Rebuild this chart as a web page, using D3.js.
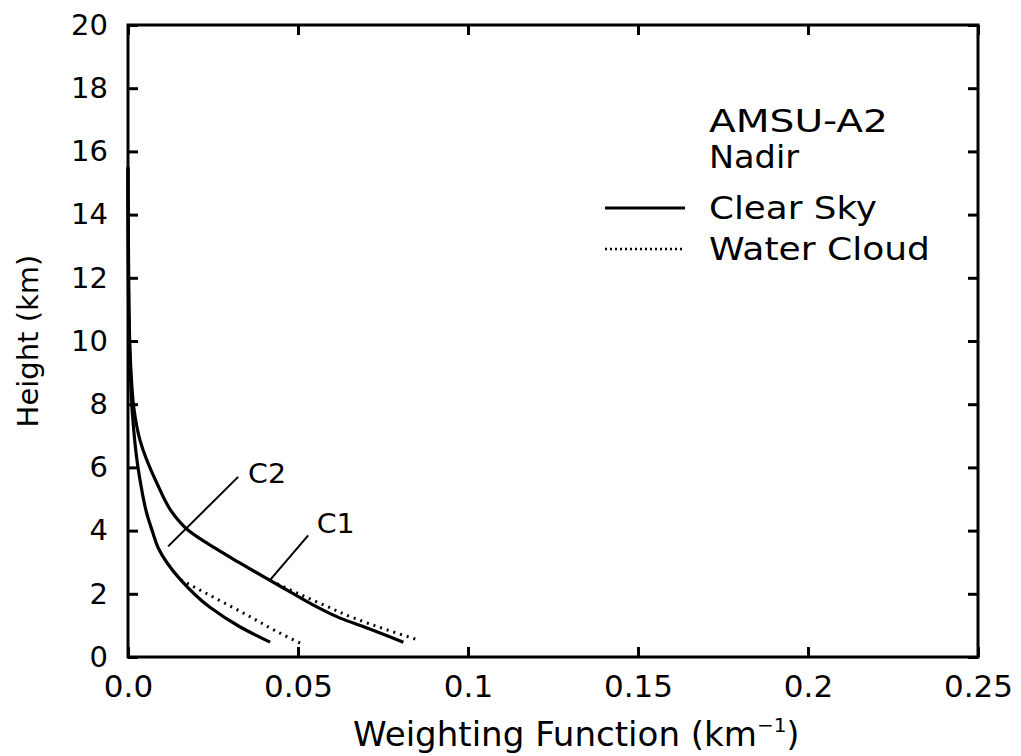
<!DOCTYPE html>
<html><head><meta charset="utf-8">
<script src="https://cdn.jsdelivr.net/npm/d3@7"></script>
<style>body{margin:0;background:#fff;} text{font-family:"DejaVu Sans",sans-serif;fill:#000;}</style>
</head><body><svg id="c" width="1021" height="756"></svg>
<script>
const xTicks = [0, 0.05, 0.1, 0.15, 0.2, 0.25];
const xTickLabels = ["0.0", "0.05", "0.1", "0.15", "0.2", "0.25"];
const yTicks = [0, 2, 4, 6, 8, 10, 12, 14, 16, 18, 20];

// C1 clear sky: height (km) and weighting (km^-1)
const c1ClearH = [0.47, 0.92, 1.23, 1.65, 2.06, 2.44, 3.0, 3.45, 4.0, 4.5, 5.5, 6.87, 7.9, 9.0, 10.0, 12.0, 15.5];
const c1ClearW = [0.081, 0.0703, 0.0624, 0.0544, 0.0477, 0.0415, 0.0325, 0.0255, 0.0178, 0.0135, 0.0085, 0.0035, 0.0017, 0.0009, 0.0005, 0.0002, 0.0];
const c1CloudH = [0.57, 0.92, 1.23, 1.65, 2.06, 2.44];
const c1CloudW = [0.0845, 0.0745, 0.0665, 0.0575, 0.049, 0.0415];
// C2
const c2ClearH = [0.47, 0.95, 1.58, 2.44, 3.45, 4.0, 4.55, 5.5, 6.1, 7.7, 9.0, 10.0, 12.0, 15.5];
const c2ClearW = [0.0418, 0.033, 0.024, 0.0155, 0.0089, 0.0071, 0.0055, 0.0037, 0.0028, 0.0013, 0.0007, 0.0004, 0.0001, 0.0];
const c2CloudH = [0.44, 0.85, 1.27, 1.9, 2.44];
const c2CloudW = [0.0506, 0.043, 0.036, 0.025, 0.0155];

const svg = d3.select("#c");
const L = 128, R = 978, T = 25, B = 657;
const x = d3.scaleLinear().domain([0, 0.25]).range([L, R]);
const y = d3.scaleLinear().domain([0, 20]).range([B, T]);
const FS = 29;

// axes with inward ticks
const gx = svg.append("g").attr("transform", `translate(0,${B})`)
  .call(d3.axisBottom(x).tickValues(xTicks).tickSize(-10).tickFormat((d,i)=>xTickLabels[i]).tickPadding(18));
const gxt = svg.append("g").attr("transform", `translate(0,${T})`)
  .call(d3.axisTop(x).tickValues(xTicks).tickSize(-10).tickFormat(""));
const gy = svg.append("g").attr("transform", `translate(${L},0)`)
  .call(d3.axisLeft(y).tickValues(yTicks).tickSize(-10).tickFormat(d3.format("d")).tickPadding(20));
const gyr = svg.append("g").attr("transform", `translate(${R},0)`)
  .call(d3.axisRight(y).tickValues(yTicks).tickSize(-10).tickFormat(""));
[gx,gxt,gy,gyr].forEach(g=>{
  g.selectAll(".domain").remove();
  g.selectAll(".tick line").attr("stroke","#000").attr("stroke-width",3);
  g.selectAll("text").style("font-size",FS+"px").style("font-family","DejaVu Sans");
});
gx.selectAll("text").style("font-size","31px").attr("dy","0.71em");
svg.append("rect").attr("x",L).attr("y",T).attr("width",R-L).attr("height",B-T)
  .attr("fill","none").attr("stroke","#000").attr("stroke-width",3);

const line = d3.line().x(d=>x(d[1])).y(d=>y(d[0])).curve(d3.curveMonotoneY);
function series(H,W){ return H.map((h,i)=>[h,W[i]]).sort((a,b)=>a[0]-b[0]); }
const solid = [series(c1ClearH,c1ClearW), series(c2ClearH,c2ClearW)];
const dotted = [series(c1CloudH,c1CloudW), series(c2CloudH,c2CloudW)];
solid.forEach(s=>svg.append("path").attr("d",line(s)).attr("fill","none").attr("stroke","#000").attr("stroke-width",3.2));
dotted.forEach(s=>svg.append("path").attr("d",line(s)).attr("fill","none").attr("stroke","#000").attr("stroke-width",3).attr("stroke-dasharray","2,5"));

// annotations (in data coords)
const ann = [
  {name:"C2", from:[0.0118,3.5], to:[0.0324,5.7], tx:0.0353, ty:5.8},
  {name:"C1", from:[0.0415,2.4], to:[0.053,3.85], tx:0.0555, ty:4.2}
];
ann.forEach(a=>{
  svg.append("line").attr("x1",x(a.from[0])).attr("y1",y(a.from[1])).attr("x2",x(a.to[0])).attr("y2",y(a.to[1]))
    .attr("stroke","#000").attr("stroke-width",2);
  svg.append("text").attr("x",x(a.tx)).attr("y",y(a.ty)).attr("dy","0.35em").style("font-size","26px")
    .attr("textLength",38).attr("lengthAdjust","spacingAndGlyphs").text(a.name);
});

// legend
const lx = 605, tx = 709;
const legendText = [
  {t:"AMSU-A2", y:121, w:179},
  {t:"Nadir", y:157, w:90},
  {t:"Clear Sky", y:208, w:168},
  {t:"Water Cloud", y:249, w:221}
];
legendText.forEach(d=>svg.append("text").attr("x",tx).attr("y",d.y).attr("dy","0.35em").style("font-size","32px")
  .attr("textLength",d.w).attr("lengthAdjust","spacingAndGlyphs").text(d.t));
svg.append("line").attr("x1",lx).attr("x2",685).attr("y1",208).attr("y2",208).attr("stroke","#000").attr("stroke-width",3);
svg.append("line").attr("x1",lx).attr("x2",685).attr("y1",249).attr("y2",249).attr("stroke","#000").attr("stroke-width",2.5).attr("stroke-dasharray","2,3");

// axis titles
const xt = svg.append("text").attr("x",353).attr("y",746).style("font-size","33px");
xt.append("tspan").attr("textLength",404).attr("lengthAdjust","spacingAndGlyphs").text("Weighting Function (km");
xt.append("tspan").attr("dy",-14).style("font-size","20px").text("−1");
xt.append("tspan").attr("dy",14).text(")");
svg.append("text").attr("transform",`translate(38,${(T+B)/2}) rotate(-90)`).attr("text-anchor","middle").style("font-size",FS+"px").text("Height (km)");
</script></body></html>
